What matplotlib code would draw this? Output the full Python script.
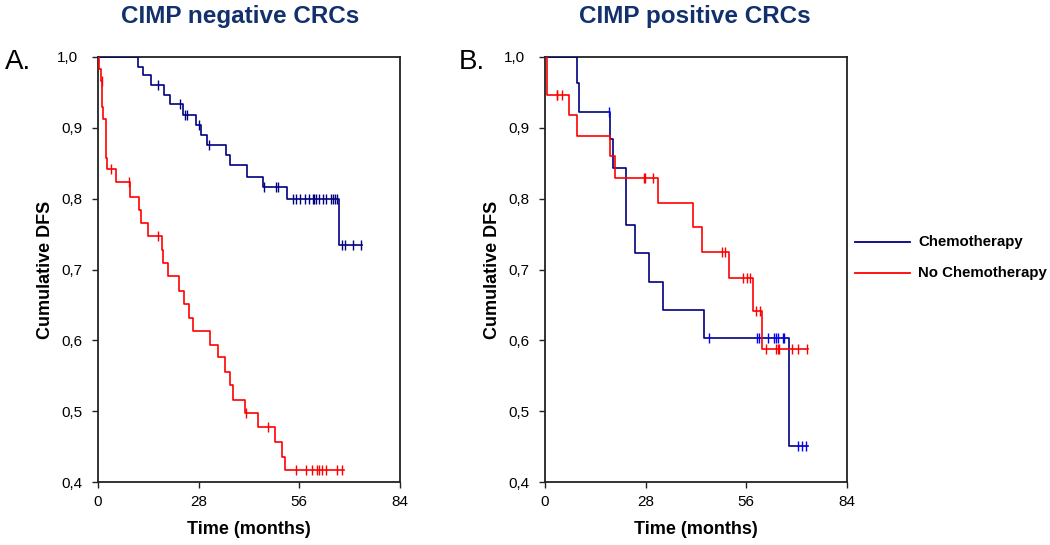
import numpy as np
import matplotlib.pyplot as plt
from matplotlib.transforms import ScaledTranslation

plt.rcParams['font.family'] = ['Liberation Sans', 'DejaVu Sans']

NAVY = '#000080'
RED = '#ff0000'
TITLE_COLOR = '#12306b'

# Panel A: CIMP negative
a_chemo_times = [0, 11.2, 12.6, 14.8, 18.4, 20.1, 23.6, 27.3, 28.7, 30.3, 35.7, 36.6,
                 41.4, 45.9, 52.6, 67.0]
a_chemo_surv = [1.0, 0.986, 0.974, 0.960, 0.947, 0.933, 0.918, 0.904, 0.890, 0.876,
                0.861, 0.848, 0.831, 0.817, 0.800, 0.735]
a_chemo_cens = [16.8, 22.8, 24.2, 24.7, 28.0, 30.9, 46.2, 49.6, 50.2, 54.1, 55.2, 56.3,
                57.5, 58.8, 59.8, 60.2, 60.6, 61.4, 62.5, 63.5, 64.8, 65.4, 66.0, 66.5,
                67.9, 68.8, 71.0, 73.2]
a_chemo_end = 73.5

a_nochemo_times = [0, 0.3, 0.7, 1.2, 1.5, 2.2, 2.6, 5.0, 8.9, 11.5, 11.9, 14.0, 17.7,
                   18.2, 19.6, 22.4, 23.8, 25.4, 26.4, 31.2, 33.4, 35.2, 36.6, 37.5,
                   40.8, 44.5, 49.3, 51.2, 52.1]
a_nochemo_surv = [1.0, 0.983, 0.966, 0.930, 0.913, 0.857, 0.842, 0.823, 0.803, 0.784,
                  0.766, 0.747, 0.728, 0.709, 0.691, 0.670, 0.651, 0.632, 0.613, 0.594,
                  0.576, 0.555, 0.537, 0.516, 0.498, 0.478, 0.457, 0.436, 0.417]
a_nochemo_cens = [1.0, 3.5, 8.6, 16.8, 41.2, 47.3, 55.1, 57.9, 59.5, 60.9, 61.4, 62.3,
                  63.5, 66.5, 68.0]
a_nochemo_end = 68.4

# Panel B: CIMP positive
b_chemo_times = [0, 8.8, 9.5, 18.1, 19.0, 22.6, 25.1, 29.0, 32.7, 44.1, 68.0]
b_chemo_surv = [1.0, 0.963, 0.923, 0.884, 0.843, 0.763, 0.723, 0.682, 0.643, 0.603, 0.451]
b_chemo_cens = [17.9, 45.7, 58.9, 59.4, 61.9, 63.8, 64.3, 64.9, 66.1, 66.5, 70.5, 71.5, 72.5]
b_chemo_end = 73.1

b_nochemo_times = [0, 0.65, 6.7, 8.8, 18.1, 19.5, 31.5, 41.3, 43.6, 51.2, 57.8, 60.3]
b_nochemo_surv = [1.0, 0.947, 0.918, 0.888, 0.860, 0.829, 0.794, 0.760, 0.725, 0.688,
                  0.642, 0.588]
b_nochemo_cens = [3.3, 3.4, 4.8, 27.6, 27.8, 30.1, 49.2, 50.1, 55.2, 56.3, 56.9, 58.7,
                  59.9, 61.5, 64.2, 64.7, 65.2, 68.7, 70.5, 72.9]
b_nochemo_end = 73.2

x_ticks = [0, 28, 56, 84]
y_ticks = [0.4, 0.5, 0.6, 0.7, 0.8, 0.9, 1.0]


def km_curve(ax, times, surv, cens, end, color, cens_color=None):
    t = list(times) + [end]
    s = list(surv) + [surv[-1]]
    ax.step(t, s, where='post', color=color, lw=1.2, zorder=3)
    # censor marks sit on the curve level at that time
    idx = np.searchsorted(times, cens, side='right') - 1
    cy = np.array(surv)[idx]
    ax.plot(cens, cy, ls='none', marker='|', ms=7, mew=1.0,
            color=cens_color or color, zorder=4)


def style_axes(ax):
    ax.set_xlim(0, 84)
    ax.set_ylim(0.4, 1.0)
    ax.set_xticks(x_ticks)
    ax.set_yticks(y_ticks)
    ax.set_yticklabels([f'{v:.1f}'.replace('.', ',') for v in y_ticks])
    ax.tick_params(length=4, width=1.0, labelsize=11, color='#222222')
    ax.tick_params(axis='y', pad=7)
    ax.tick_params(axis='x', pad=5)
    for sp in ax.spines.values():
        sp.set_linewidth(1.3)
        sp.set_color('#222222')
    # top label sits a bit further left, as in the original
    top = ax.get_yticklabels()[-1]
    top.set_transform(top.get_transform() + ScaledTranslation(-5 / 100, 0, fig.dpi_scale_trans))
    ax.set_xlabel('Time (months)', fontsize=13, fontweight='bold', labelpad=9)
    ax.set_ylabel('Cumulative DFS', fontsize=13, fontweight='bold')
    ax.yaxis.set_label_coords(-0.145, 0.5)


fig = plt.figure(figsize=(10.5, 5.45), dpi=100)
ax_a = fig.add_axes([98 / 1050, 63 / 545, 302 / 1050, 425 / 545])
ax_b = fig.add_axes([545 / 1050, 63 / 545, 302 / 1050, 425 / 545])

km_curve(ax_a, a_chemo_times, a_chemo_surv, a_chemo_cens, a_chemo_end, NAVY)
km_curve(ax_a, a_nochemo_times, a_nochemo_surv, a_nochemo_cens, a_nochemo_end, RED)
km_curve(ax_b, b_chemo_times, b_chemo_surv, b_chemo_cens, b_chemo_end, NAVY, '#0000ff')
km_curve(ax_b, b_nochemo_times, b_nochemo_surv, b_nochemo_cens, b_nochemo_end, RED)

style_axes(ax_a)
style_axes(ax_b)

fig.text(240 / 1050, 1 - 17 / 545, 'CIMP negative CRCs', ha='center', va='center',
         fontsize=17.5, fontweight='bold', color=TITLE_COLOR)
fig.text(695 / 1050, 1 - 17 / 545, 'CIMP positive CRCs', ha='center', va='center',
         fontsize=17.5, fontweight='bold', color=TITLE_COLOR)
fig.text(5 / 1050, 1 - 62 / 545, 'A.', ha='left', va='center', fontsize=20)
fig.text(459 / 1050, 1 - 62 / 545, 'B.', ha='left', va='center', fontsize=20)

# legend drawn in figure coordinates
for yy, col, lab in [(242, NAVY, 'Chemotherapy'), (273, RED, 'No Chemotherapy')]:
    fig.add_artist(plt.Line2D([855 / 1050, 910 / 1050], [1 - yy / 545, 1 - yy / 545],
                              color=col, lw=1.3))
    fig.text(918 / 1050, 1 - yy / 545, lab, ha='left', va='center', fontsize=10.8,
             fontweight='bold')

fig.savefig('out.png', dpi=100)
